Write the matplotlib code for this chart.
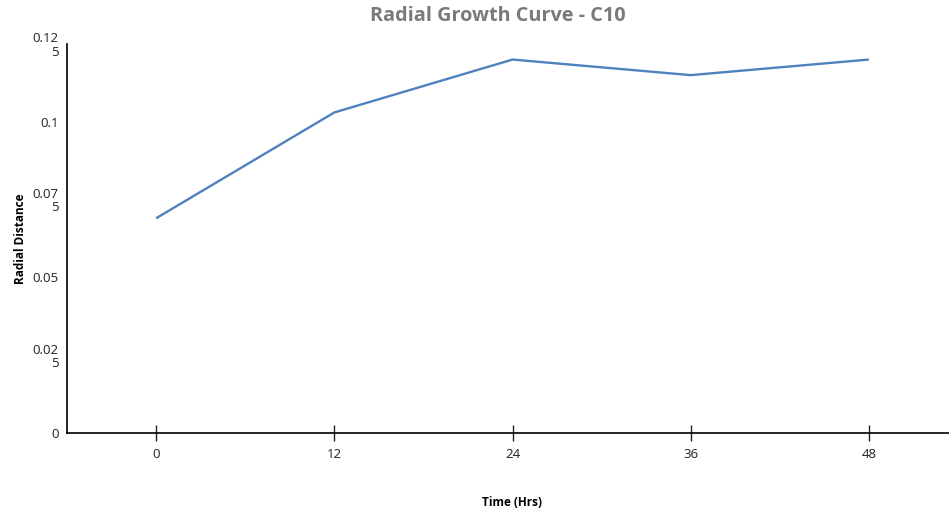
import matplotlib.pyplot as plt

# radial growth of C10 over time
hours = [0, 12, 24, 36, 48]
radial = [0.069, 0.103, 0.120, 0.115, 0.120]

y_ticks = [0, 0.025, 0.05, 0.075, 0.1, 0.125]
y_labels = ['0', '0.02\n5', '0.05', '0.07\n5', '0.1', '0.12\n5']

plt.rcParams['font.family'] = ['Open Sans', 'DejaVu Sans']

fig = plt.figure(figsize=(9.49, 5.14), dpi=100)
ax = fig.add_axes([67/949, 81/514, 891/949, 389/514])

ax.plot(hours, radial, color='#4f81bd', lw=1.7, solid_capstyle='butt')

ax.set_xlim(-6, 54)
ax.set_ylim(0, 0.125)
ax.set_xticks(hours)
ax.set_xticklabels([str(h) for h in hours])
ax.set_yticks(y_ticks)
ax.set_yticklabels(y_labels, linespacing=1.0)

for s in ['top', 'right']:
    ax.spines[s].set_visible(False)
for s in ['left', 'bottom']:
    ax.spines[s].set_linewidth(1.2)

ax.tick_params(axis='x', direction='inout', length=12, width=1, pad=5,
               labelsize=9.5, colors='#222222')
ax.tick_params(axis='y', length=0, pad=6, labelsize=9.5, colors='#222222')

ax.set_xlabel('Time (Hrs)', fontsize=8.5, fontweight='bold', labelpad=25)
ax.set_ylabel('Radial Distance', fontsize=8.5, fontweight='bold', labelpad=4)
fig.text(498/949, 1 - 16/514, 'Radial Growth Curve - C10', ha='center', va='center',
         fontsize=14.3, fontweight='bold', color='#7a7a7a')

fig.savefig('out.png', dpi=100)
